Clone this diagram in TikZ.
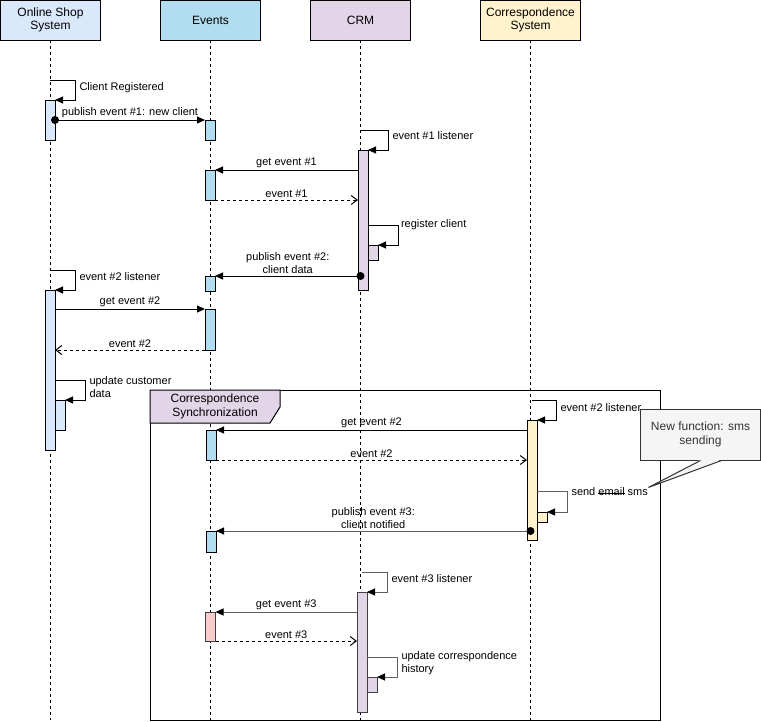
\documentclass[tikz,border=0pt]{standalone}
\usepackage{fontspec}
\setmainfont{Liberation Sans}
\usetikzlibrary{positioning,arrows.meta}

\definecolor{ossBlue}{HTML}{DAE8FC}
\definecolor{evBlue}{HTML}{B1DDF0}
\definecolor{crmLilac}{HTML}{E1D5E7}
\definecolor{csYellow}{HTML}{FFF2CC}
\definecolor{evPink}{HTML}{F8CECC}
\definecolor{noteGray}{HTML}{F5F5F5}
\definecolor{lineGray}{HTML}{5F5F5F}

\newcommand{\strikeword}[1]{\setbox0=\hbox{#1}\rlap{\raisebox{0.3ex}{\rule{\wd0}{0.8pt}}}\box0\relax}

\begin{document}
\begin{tikzpicture}[x=1pt, y=-1pt, line width=1pt,
    head/.style={rectangle, draw, minimum width=100pt, minimum height=40pt, inner sep=0pt, outer sep=0pt, align=center, font=\fontsize{12}{13.5}\selectfont},
    life/.style={dash pattern=on 3pt off 3pt},
    act/.style={rectangle, draw, minimum width=10pt, inner sep=0pt, outer sep=0pt},
    msg/.style={-{Triangle[length=8pt,width=7pt,color=black]}},
    gmsg/.style={msg, draw=lineGray},
    reply/.style={dash pattern=on 3pt off 3pt, -{Straight Barb[length=6pt,width=9pt]}},
    lbl/.style={above, inner sep=2pt, align=center, font=\fontsize{11}{13}\selectfont},
    side/.style={anchor=west, inner sep=0pt, xshift=4pt, align=left, font=\fontsize{11}{13}\selectfont}]
    \useasboundingbox (0,0) rectangle (761,721);

    % lifelines
    \node[head, fill=ossBlue] (ossHead) at (50.5,20) {Online Shop\\System};
    \node[head, fill=evBlue, right=60pt of ossHead] (evHead) {Events};
    \node[head, fill=crmLilac, right=50pt of evHead] (crmHead) {CRM};
    \node[head, fill=csYellow, right=70pt of crmHead] (csHead) {Correspondence\\System};
    \coordinate (bottom) at (0,720);
    \foreach \h in {ossHead,evHead,crmHead,csHead}
        \draw[life] (\h.south) -- (\h.south |- bottom);

    % fragment
    \draw (150,390) rectangle (660,720);
    \draw[fill=crmLilac] (150,390) -- (280,390) -- (280,407) -- (270,423) -- (150,423) -- cycle;
    \node[font=\fontsize{12}{13.5}\selectfont, align=center] (fragTitle) at (215,406.5) {Correspondence\\Synchronization};

    % activations
    \node[act, fill=ossBlue, minimum height=40pt] (osA) at (50,120) {};
    \node[act, fill=evBlue, minimum height=20pt] (evA) at (210,130) {};
    \node[act, fill=crmLilac, minimum height=140pt] (crmA) at (363,220) {};
    \node[act, fill=evBlue, minimum height=30pt] (evB) at (210,185) {};
    \node[act, fill=crmLilac, minimum height=15pt] (crmB) at (373,252.5) {};
    \node[act, fill=evBlue, minimum height=15pt] (evC) at (210,283.5) {};
    \node[act, fill=ossBlue, minimum height=160pt] (osB) at (50,370) {};
    \node[act, fill=evBlue, minimum height=41pt] (evD) at (210,329.5) {};
    \node[act, fill=ossBlue, minimum height=30pt] (osC) at (60,415) {};
    \node[act, fill=evBlue, minimum height=30pt] (evE) at (211,445) {};
    \node[act, fill=csYellow, minimum height=120pt] (csA) at (532,480) {};
    \node[act, fill=csYellow, minimum height=10pt] (csB) at (542,517) {};
    \node[act, fill=evBlue, minimum height=21pt] (evF) at (211,541.5) {};
    \node[act, draw=black!75, fill=crmLilac, minimum height=120pt] (crmC) at (362,652) {};
    \node[act, draw=black!75, fill=evPink, minimum height=29pt] (evG) at (210.5,626.5) {};
    \node[act, draw=black!75, fill=crmLilac, minimum height=15pt] (crmD) at (372,684.5) {};

    % messages
    \draw[msg] ([yshift=20pt]osA.north) -| ([xshift=20pt]osA.north east) node[midway, side, yshift=-8pt] {Client Registered} -- (osA.north east);
    \draw[msg] (osA.east |- evA.north) -- node[lbl] {publish event \#1: new client} (evA.north west);
    \fill (osA.east |- evA.north) circle[radius=4pt];
    \draw[msg] ([yshift=20pt]crmA.north -| crmHead.south) -| ([xshift=20pt]crmA.north east) node[midway, side, yshift=-6pt] {event \#1 listener} -- (crmA.north east);
    \draw[msg] (crmA.west |- evB.north) -- node[lbl] {get event \#1} (evB.north east);
    \draw[reply] (evB.south east) -- node[lbl] {event \#1} (crmA.west |- evB.south);
    \draw[msg] ([yshift=20pt]crmB.north west) -| ([xshift=20pt]crmB.north east) node[midway, side, xshift=-1.5pt] {register client} -- (crmB.north east);
    \draw[msg] (crmHead |- evC.north) -- node[lbl] {publish event \#2:\\client data} (evC.north east);
    \fill (crmHead |- evC.north) circle[radius=4pt];

    \draw[msg] ([yshift=20pt]osB.north) -| ([xshift=20pt]osB.north east) node[midway, side, yshift=-7pt] {event \#2 listener} -- (osB.north east);
    \draw[msg] (osB.east |- evD.north) -- node[lbl] {get event \#2} (evD.north west);
    \draw[reply] (evD.south west) -- node[lbl] {event \#2} (osB.east |- evD.south);
    \draw[msg] ([yshift=20pt]osC.north west) -| ([xshift=20pt]osC.north east) node[midway, side, yshift=-7pt] {update customer\\data} -- (osC.north east);

    \draw[msg] ([yshift=20pt]csA.north) -| ([xshift=19pt]csA.north east) node[midway, side, yshift=-8pt] {event \#2 listener} -- (csA.north east);
    \draw[msg] (csA.west |- evE.north) -- node[lbl] {get event \#2} (evE.north east);
    \draw[reply] (evE.south east) -- node[lbl] {event \#2} (csA.west |- evE.south);
    \draw[gmsg] ([yshift=21pt]csB.north west) -| ([xshift=20pt]csB.north east) node[midway, side, yshift=-1pt] (smsLbl) {send \strikeword{email} sms} -- (csB.north east);
    \draw[gmsg] (csHead |- evF.north) -- node[lbl] {publish event \#3:\\client notified} (evF.north east);
    \fill (csHead |- evF.north) circle[radius=4pt];

    \draw[gmsg] ([yshift=20pt]crmC.north) -| ([xshift=20pt]crmC.north east) node[midway, side, yshift=-7pt] {event \#3 listener} -- (crmC.north east);
    \draw[gmsg] (crmC.west |- evG.north) -- node[lbl] {get event \#3} (evG.north east);
    \draw[reply] (evG.south east) -- node[lbl] {event \#3} (crmC.west |- evG.south);
    \draw[gmsg] ([yshift=20pt]crmD.north west) -| ([xshift=20pt]crmD.north east) node[midway, side, yshift=-6.5pt] {update correspondence\\history} -- (crmD.north east);

    % note
    \node[draw=black!80, fill=noteGray, text=black!80, minimum width=120pt, minimum height=51pt, align=center, font=\fontsize{12}{13.5}\selectfont] (note) at (700.5,434.5) {New function: sms\\sending};
    \coordinate (tip) at (smsLbl.north east);
    \fill[noteGray] ([yshift=1pt]note.south) -- (tip) -- ([xshift=21pt,yshift=1pt]note.south) -- cycle;
    \draw[black!80] (note.south) -- (tip) -- ([xshift=21pt]note.south);
\end{tikzpicture}
\end{document}
